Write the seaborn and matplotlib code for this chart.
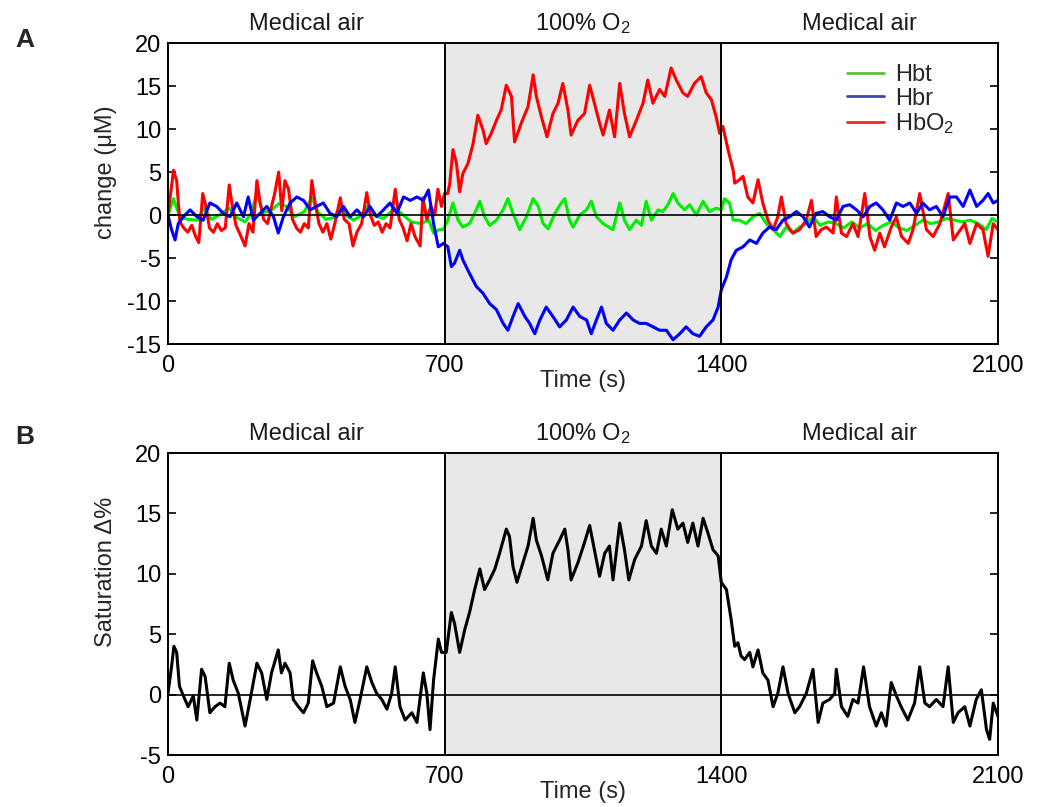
import matplotlib
matplotlib.use("Agg")
import matplotlib.pyplot as plt
import seaborn as sns
from matplotlib.lines import Line2D

# ---- data (time in s, values in uM / %) ----
hbo2_t = [0, 8, 14, 22, 30, 40, 50, 60, 70, 78, 88, 96, 105, 115, 125, 135, 145, 155, 163, 172,
          182, 195, 205, 215, 225, 233, 242, 252, 262, 270, 280, 288, 296, 305, 315, 325, 335, 345,
          355, 364, 372, 382, 392, 402, 412, 422, 436, 446, 458, 468, 478, 490, 503, 512, 522, 532,
          542, 552, 562, 575, 585, 595, 605, 615, 625, 638, 645, 655, 665, 675, 683, 692, 700,
          708, 713, 721, 730, 738, 746, 759, 772, 784, 797, 805, 818, 831, 843, 856, 869, 877, 894,
          911, 924, 932, 945, 959, 974, 987, 999, 1012, 1020, 1037, 1054, 1067, 1079, 1092, 1101,
          1117, 1130, 1143, 1155, 1168, 1185, 1202, 1214, 1227, 1244, 1257, 1273, 1286, 1303, 1315,
          1332, 1349, 1362, 1375, 1387, 1396, 1404, 1417, 1430, 1434, 1446, 1455, 1467, 1480, 1493,
          1505, 1518, 1531, 1543, 1552, 1564, 1581, 1598, 1615, 1628, 1640, 1653, 1666, 1683, 1691,
          1704, 1717, 1733, 1746, 1763, 1776, 1788, 1801, 1813, 1830, 1843, 1856, 1873, 1885, 1902,
          1919, 1936, 1953, 1974, 1987, 1999, 2016, 2029, 2046, 2062, 2075, 2088, 2100]
hbo2 = [0.0, 3.0, 5.2, 4.0, -0.8, -1.5, -2.0, -1.2, -2.5, -3.2, 2.5, 1.0, -1.5, -2.0, -1.0, -1.8,
        -1.5, 3.5, 1.0, -1.2, -2.2, -3.6, -1.0, -2.0, 4.0, 1.5, -0.5, -1.0, 1.0, 2.5, 5.0, 0.5, 4.0,
        3.0, -0.5, -1.5, -2.0, -1.0, -1.5, 4.0, 1.5, -1.0, -2.0, -1.0, -2.8, -1.0, 2.0, -0.5, -1.0,
        -3.6, -2.0, -1.0, 2.6, 0.0, -1.2, -0.8, -2.0, -1.0, -1.5, 3.0, -0.5, -1.5, -3.0, -1.0, -2.5,
        -3.6, 2.0, -0.5, 1.0, 0.0, 3.0, 1.0, 2.5,
        2.5, 3.7, 7.6, 6.0, 2.7, 4.8, 6.0, 8.3, 11.6, 9.9, 8.3, 9.5, 11.0, 12.2, 15.1, 13.8, 8.5,
        10.7, 12.6, 16.3, 13.8, 11.4, 9.1, 11.8, 13.0, 15.3, 12.2, 9.3, 11.0, 11.8, 15.1, 13.0, 10.7,
        9.3, 12.2, 9.1, 15.3, 11.8, 9.1, 11.0, 13.0, 15.7, 13.0, 14.6, 13.8, 17.1, 15.7, 14.2, 13.8,
        15.3, 16.1, 14.2, 13.4, 11.4, 9.5, 10.3, 7.6, 5.2, 3.7, 4.1, 4.5, 2.1, 1.4, 4.1,
        1.4, -0.6, -1.7, -0.2, 2.1, -1.0, -2.1, -1.7, -0.6, 1.7, -2.5, -1.7, -1.4, -2.1, 2.1,
        -2.1, -2.5, -1.0, -2.5, 2.5, -2.5, -4.1, -2.1, -3.7, -1.4, -0.2, -2.5, -3.3, -1.7, 2.5,
        -1.7, -2.5, -1.0, 2.5, -2.9, -2.1, -1.0, -3.3, -1.0, -1.7, -4.8, -1.0, -1.7]

hbr_t = [0, 9, 18, 26, 39, 56, 73, 89, 106, 123, 140, 157, 174, 191, 203, 216, 233, 250, 267, 279,
         292, 309, 326, 343, 360, 376, 393, 410, 427, 444, 461, 478, 495, 511, 528, 545, 562, 579,
         596, 613, 630, 646, 659, 672, 684, 697,
         708, 717, 725, 738, 746, 763, 780, 797, 814, 831, 848, 860, 873, 886, 903, 915, 928, 941,
         957, 974, 991, 1008, 1025, 1042, 1059, 1071, 1084, 1097, 1109, 1126, 1143, 1160, 1177,
         1193, 1210, 1227, 1244, 1261, 1278, 1295, 1311, 1328, 1345, 1362, 1379, 1392, 1400, 1413,
         1425, 1438, 1455, 1472, 1489, 1505, 1522, 1539, 1556, 1573, 1590, 1607, 1623, 1640, 1657,
         1674, 1691, 1708, 1725, 1742, 1759, 1776, 1792, 1809, 1826, 1843, 1860, 1877, 1894, 1910,
         1927, 1944, 1961, 1978, 1995, 2012, 2029, 2046, 2062, 2075, 2088, 2100]
hbr = [0.0, -1.7, -2.9, -1.0, -0.2, 0.6, -0.2, -0.6, 1.4, 1.0, 0.2, -0.2, 1.4, -0.2, 2.1, -0.6,
       0.2, 1.0, -0.2, -2.1, -0.2, 1.4, 2.1, 1.7, 0.6, 1.0, 1.4, 0.2, -0.2, 1.0, -0.2, 0.6, -0.2,
       1.0, -0.2, 0.6, 1.4, 0.2, 2.1, 1.7, 2.1, 1.7, 2.9, -1.0, -3.7, -3.3,
       -3.7, -6.0, -5.6, -4.1, -5.2, -6.8, -8.3, -9.1, -10.3, -11.0, -12.6, -13.4, -11.8, -10.3,
       -11.8, -12.6, -13.8, -12.2, -10.7, -11.8, -13.0, -12.2, -10.7, -11.8, -12.2, -13.8, -12.2,
       -10.7, -12.6, -13.4, -12.2, -11.4, -12.2, -12.6, -12.6, -13.0, -13.4, -13.4, -14.5, -13.8,
       -13.0, -13.8, -14.1, -13.0, -12.2, -10.7, -8.7, -7.2,
       -5.2, -4.1, -3.7, -2.9, -3.3, -2.1, -1.4, -1.7, -0.6, -0.2, 0.4, -0.2, -1.4, 0.2, 0.4,
       -0.2, -0.6, 1.0, 1.2, 0.6, -0.2, 1.0, 1.4, 0.6, -0.6, 1.4, 1.0, 1.4, 0.2, 1.4,
       0.6, 1.0, -0.2, 2.1, 2.1, 1.0, 2.9, 1.0, 1.7, 2.5, 1.4, 1.7]

hbt_t = [0, 14, 30, 50, 75, 90, 110, 130, 155, 175, 195, 210, 225, 240, 260, 280, 300, 320, 345,
         364, 380, 400, 420, 436, 455, 470, 490, 503, 520, 545, 575, 595, 615, 640, 660, 672, 686,
         696, 708, 721, 734, 746, 763, 780, 789, 801, 814, 831, 848, 860, 873, 890, 907, 924, 937,
         949, 962, 979, 995, 1004, 1016, 1025, 1042, 1059, 1071, 1084, 1101, 1126, 1143, 1155,
         1168, 1185, 1198, 1210, 1223, 1240, 1252, 1265, 1278, 1290, 1307, 1320, 1337, 1354, 1370,
         1387, 1400, 1408, 1421, 1430, 1446, 1463, 1480, 1497, 1514, 1531, 1548, 1564, 1581, 1598,
         1615, 1632, 1650, 1670, 1690, 1710, 1730, 1750, 1770, 1790, 1810, 1830, 1850, 1870, 1890,
         1910, 1930, 1950, 1970, 1990, 2010, 2030, 2050, 2070, 2085, 2100]
hbt = [0.0, 1.9, -0.2, -0.5, -0.6, 0.8, -0.5, 0.0, 0.8, -0.3, -0.8, 0.2, 2.5, 0.3, 0.5, 1.3,
       1.0, -0.2, 0.4, 2.0, 0.3, -0.5, -0.3, 1.0, -0.2, -0.6, 0.0, 1.0, 0.0, -0.4, 0.8, 0.0, -0.8,
       -1.0, -0.6, -2.1, -1.7, -1.7, -0.6, 1.4, -0.6, -1.4, -1.0, 0.6, 1.6, -0.2, -1.2, -0.6, 0.6,
       1.9, 0.2, -1.7, -0.2, 1.9, 1.0, -1.0, -1.6, 0.2, 1.4, 1.9, -0.6, -1.4, 0.0, 0.6, 1.6, -0.2,
       -1.0, -1.7, 1.4, -0.6, -1.7, -0.6, -1.2, 1.6, -0.6, 0.6, 0.4, 1.2, 2.5, 1.4, 0.6, 1.2, 0.0,
       1.6, 0.4, 0.8, 0.6, 1.9, 1.4, -0.6, -0.6, -1.0, -0.2, 0.2, -1.0, -1.7, -2.5, -1.4, -2.1,
       -1.4, -1.0, -0.2, -1.2, -0.8, -1.0, -1.5, -0.8, -1.5, -1.0, -1.8, -1.2, -0.8, -1.5, -1.8,
       -1.2, -0.6, -1.0, -0.8, -0.4, -0.6, -0.8, -0.6, -1.0, -1.7, -0.4, -0.8]

sat_t = [0, 9, 15, 22, 29, 39, 51, 64, 73, 85, 94, 106, 119, 132, 144, 155, 165, 178, 195, 208,
         225, 237, 250, 262, 279, 287, 296, 309, 317, 330, 343, 355, 366, 376, 389, 402, 419, 436,
         448, 461, 473, 486, 503, 516, 528, 541, 554, 566, 575, 587, 600, 617, 630, 646, 655, 663,
         672, 684, 692, 704, 717, 725, 738, 751, 763, 776, 789, 801, 814, 827, 839, 856, 864, 873,
         883, 898, 911, 924, 932, 945, 961, 974, 991, 1004, 1012, 1020, 1037, 1054, 1067, 1079,
         1092, 1105, 1117, 1126, 1143, 1155, 1166, 1181, 1198, 1210, 1223, 1236, 1248, 1261, 1276,
         1290, 1303, 1315, 1328, 1341, 1354, 1366, 1379, 1392, 1400, 1413, 1425, 1434, 1442, 1450,
         1459, 1472, 1480, 1493, 1505, 1518, 1531, 1543, 1556, 1569, 1586, 1598, 1615, 1632, 1645,
         1657, 1674, 1687, 1691, 1704, 1720, 1733, 1746, 1760, 1775, 1792, 1805, 1817, 1830, 1843,
         1855, 1872, 1889, 1902, 1915, 1927, 1944, 1961, 1974, 1987, 1999, 2016, 2029, 2045, 2058,
         2071, 2079, 2088, 2100]
sat = [0.1, 2.3, 4.0, 3.5, 0.7, -0.1, -1.0, -0.1, -2.1, 2.1, 1.5, -1.5, -1.0, -0.7, -1.0, 2.6,
       1.2, 0.1, -2.6, -0.4, 2.6, 1.8, -0.4, 1.8, 3.7, 1.8, 2.6, 1.8, -0.4, -1.0, -1.5, -0.7, 2.8,
       1.8, 0.7, -1.0, -0.7, 2.3, 0.7, -0.4, -2.3, -0.4, 2.3, 1.0, 0.1, -0.4, -1.2, 0.1, 2.3, -1.0,
       -2.1, -1.5, -2.3, 1.8, 0.1, -2.9, 1.2, 4.6, 3.5, 3.5, 6.8, 5.9, 3.5, 5.4, 6.8, 8.7, 10.4,
       8.7, 9.5, 10.4, 11.7, 13.7, 13.1, 10.6, 9.3, 10.9, 12.3, 14.6, 12.8, 11.5, 9.5, 11.7, 12.8,
       13.7, 12.0, 9.5, 10.9, 12.6, 14.0, 12.0, 9.8, 11.7, 12.3, 9.5, 14.2, 12.0, 9.5, 11.2, 12.3,
       14.4, 12.3, 11.7, 13.7, 12.3, 15.3, 13.7, 14.2, 12.6, 14.2, 12.3, 14.6, 13.4, 12.0, 11.5,
       9.3, 8.7, 6.2, 4.0, 4.3, 3.2, 2.9, 3.5, 2.3, 3.7, 1.8, 1.2, -1.0, 0.1, 2.3, 0.1, -1.5, -1.0,
       0.1, 2.1, -2.3, -0.7, -0.4, 0.1, 2.1, -1.0, -1.8, -0.4, -0.7, 2.3, -1.0, -2.6, -1.5, -2.6,
       1.0, -0.1, -1.0, -2.1, -0.7, 2.3, -0.7, -1.0, -0.4, -1.0, 2.3, -2.3, -1.5, -1.0, -2.6, -0.4,
       0.4, -2.9, -3.7, -0.7, -1.8]

phase_edges = [0, 700, 1400, 2100]
phase_names = ["Medical air", "100% O$_\\mathregular{2}$", "Medical air"]
x_ticks = [0, 700, 1400, 2100]

FS = 17

sns.set_style("white")
plt.rcParams["font.family"] = ["Liberation Sans", "DejaVu Sans"]
plt.rcParams["mathtext.fontset"] = "custom"
plt.rcParams["mathtext.rm"] = "Liberation Sans"
plt.rcParams["mathtext.default"] = "regular"
plt.rcParams["axes.unicode_minus"] = False

fig = plt.figure(figsize=(10.44, 8.07), dpi=100)
ax_a = fig.add_axes([0.1609, 0.5737, 0.795, 0.373])
ax_b = fig.add_axes([0.1609, 0.0644, 0.795, 0.3742])


def style_axis(ax, ylim, yticks, ylabel, label_y):
    ax.axvspan(phase_edges[1], phase_edges[2], color="#e8e8e8", zorder=0, lw=0)
    for edge in phase_edges[1:3]:
        ax.axvline(edge, color="black", lw=1.4, zorder=5)
    ax.axhline(0, color="black", lw=1.2, zorder=5)
    ax.set_xlim(phase_edges[0], phase_edges[-1])
    ax.set_ylim(*ylim)
    ax.set_xticks(x_ticks)
    ax.set_yticks(yticks)
    ax.tick_params(axis="y", which="both", direction="in", length=6, width=1.2,
                   left=True, right=True, labelsize=FS, pad=5, colors="black")
    ax.tick_params(axis="x", length=0, labelsize=FS, pad=8, colors="black")
    for s in ax.spines.values():
        s.set_color("black")
        s.set_linewidth(1.4)
        s.set_zorder(6)
    ax.set_xlabel("Time (s)", fontsize=FS)
    ax.xaxis.set_label_coords(0.5, -0.086)
    ax.set_ylabel(ylabel, fontsize=FS)
    ax.yaxis.set_label_coords(-0.061, label_y)
    for i, name in enumerate(phase_names):
        mid = (phase_edges[i] + phase_edges[i + 1]) / 2
        ax.text(mid, 1.043, name, transform=ax.get_xaxis_transform(),
                ha="center", va="baseline", fontsize=FS, color="#1a1a1a")


# panel A
sns.lineplot(x=hbt_t, y=hbt, ax=ax_a, color="#00ee00", lw=2.2, zorder=2)
sns.lineplot(x=hbo2_t, y=hbo2, ax=ax_a, color="#ff0000", lw=2.2, zorder=3)
sns.lineplot(x=hbr_t, y=hbr, ax=ax_a, color="#0000ff", lw=2.2, zorder=4)
style_axis(ax_a, (-15, 20), [-15, -10, -5, 0, 5, 10, 15, 20], "change (\u03bcM)", 0.57)

handles = [Line2D([], [], color="#5cbf45", lw=2),
           Line2D([], [], color="#3a4aa8", lw=2),
           Line2D([], [], color="#ee2a2a", lw=2)]
ax_a.legend(handles, ["Hbt", "Hbr", "HbO$_\\mathregular{2}$"], loc="upper left",
            bbox_to_anchor=(0.8066, 0.96), frameon=False, fontsize=FS, handlelength=1.57,
            handletextpad=0.47, labelspacing=0.05, borderaxespad=0)

# panel B
sns.lineplot(x=sat_t, y=sat, ax=ax_b, color="black", lw=2.2, zorder=3)
style_axis(ax_b, (-5, 20), [-5, 0, 5, 10, 15, 20], "Saturation \u0394%", 0.605)

fig.text(0.024, 0.950, "A", fontsize=19, fontweight="bold", ha="center", va="center")
fig.text(0.024, 0.4585, "B", fontsize=19, fontweight="bold", ha="center", va="center")

fig.savefig("out.png", dpi=100)
